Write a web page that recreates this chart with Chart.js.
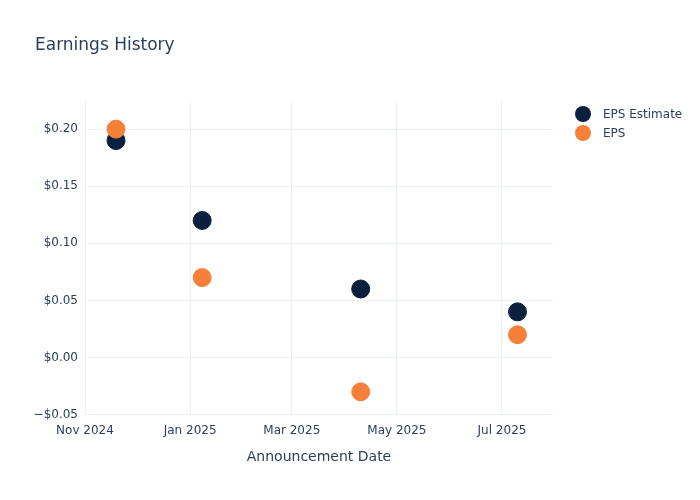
<!DOCTYPE html>
<html>
<head>
<meta charset="utf-8">
<script src="https://cdn.jsdelivr.net/npm/chart.js@4/dist/chart.umd.min.js"></script>
<style>
  html, body { margin: 0; padding: 0; background: #fff; }
  #wrap { width: 700px; height: 500px; }
</style>
</head>
<body>
<div id="wrap"><canvas id="epsChart" width="700" height="500"></canvas></div>
<script>
const announceDates = ['2024-11-19', '2025-01-08', '2025-04-10', '2025-07-10'];
const epsEstimate = [0.19, 0.12, 0.06, 0.04];
const epsActual = [0.20, 0.07, -0.03, 0.02];
const xTickDates = ['2024-11-01', '2025-01-01', '2025-03-01', '2025-05-01', '2025-07-01'];
const yTickValues = [-0.05, 0, 0.05, 0.10, 0.15, 0.20];
const monthNames = ['Jan', 'Feb', 'Mar', 'Apr', 'May', 'Jun', 'Jul', 'Aug', 'Sep', 'Oct', 'Nov', 'Dec'];

const textColor = '#2a3f5f';
const gridColor = '#ebf0f8';
const fontFamily = '"DejaVu Sans", "Open Sans", sans-serif';

function toTime(s) {
    const p = s.split('-').map(Number);
    return Date.UTC(p[0], p[1] - 1, p[2]);
}

const DAY = 86400000;
const xMin = toTime('2024-11-01');
const xMax = xMin + 271.6 * DAY;

const seriesEstimate = announceDates.map((d, i) => ({ x: toTime(d), y: epsEstimate[i] }));
const seriesActual = announceDates.map((d, i) => ({ x: toTime(d), y: epsActual[i] }));

// Titel, Achsentitel und Legende selbst zeichnen
const textPlugin = {
    id: 'textPlugin',
    afterDraw(chart) {
        const ctx = chart.ctx;
        const area = chart.chartArea;
        ctx.save();
        ctx.fillStyle = textColor;
        ctx.textBaseline = 'alphabetic';
        ctx.textAlign = 'left';
        ctx.font = '17px ' + fontFamily;
        ctx.fillText('Earnings History', 35, 50);

        ctx.textAlign = 'center';
        ctx.font = '14px ' + fontFamily;
        ctx.fillText('Announcement Date', (area.left + area.right) / 2, 461);

        ctx.textAlign = 'left';
        ctx.textBaseline = 'middle';
        ctx.font = '12px ' + fontFamily;
        chart.data.datasets.forEach((ds, i) => {
            const y = 114 + i * 19;
            ctx.beginPath();
            ctx.arc(583, y, 8, 0, Math.PI * 2);
            ctx.fillStyle = ds.backgroundColor;
            ctx.fill();
            ctx.fillStyle = textColor;
            ctx.fillText(ds.label, 603, y + 1);
        });
        ctx.restore();
    }
};

const ctx = document.getElementById('epsChart').getContext('2d');
const epsChart = new Chart(ctx, {
    type: 'scatter',
    data: {
        datasets: [{
            label: 'EPS Estimate',
            data: seriesEstimate,
            backgroundColor: '#0b1f3e',
            borderColor: '#0b1f3e',
            pointRadius: 9,
            pointHoverRadius: 9,
            order: 1,
        }, {
            label: 'EPS',
            data: seriesActual,
            backgroundColor: '#f5803a',
            borderColor: '#f5803a',
            pointRadius: 9,
            pointHoverRadius: 9,
            order: 0,
        }],
    },
    options: {
        responsive: false,
        animation: false,
        layout: { padding: { top: 101, right: 147, bottom: 0, left: 0 } },
        plugins: {
            legend: { display: false },
            tooltip: { enabled: false },
        },
        scales: {
            x: {
                type: 'linear',
                min: xMin,
                max: xMax,
                afterBuildTicks(scale) {
                    scale.ticks = xTickDates.map(d => ({ value: toTime(d) }));
                },
                afterFit(scale) { scale.height = 85; },
                grid: { color: gridColor, drawTicks: false },
                border: { display: false },
                ticks: {
                    padding: 9,
                    color: textColor,
                    font: { family: fontFamily, size: 12 },
                    maxRotation: 0,
                    callback(v) {
                        const d = new Date(v);
                        return monthNames[d.getUTCMonth()] + ' ' + d.getUTCFullYear();
                    },
                },
            },
            y: {
                min: -0.0503,
                max: 0.2246,
                afterBuildTicks(scale) {
                    scale.ticks = yTickValues.map(v => ({ value: v }));
                },
                afterFit(scale) { scale.width = 85; },
                grid: { color: gridColor, drawTicks: false },
                border: { display: false },
                ticks: {
                    padding: 7,
                    color: textColor,
                    font: { family: fontFamily, size: 12 },
                    callback(v) {
                        return (v < -1e-9 ? '\u2212$' : '$') + Math.abs(v).toFixed(2);
                    },
                },
            },
        },
    },
    plugins: [textPlugin],
});
</script>
</body>
</html>
